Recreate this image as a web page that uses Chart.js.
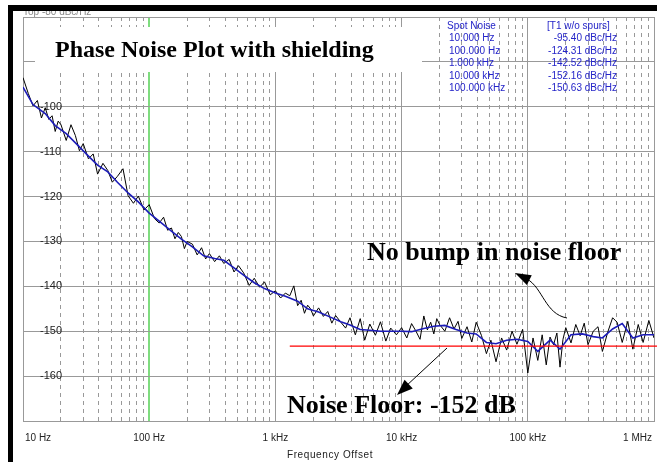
<!DOCTYPE html>
<html><head><meta charset="utf-8">
<script src="https://cdn.jsdelivr.net/npm/chart.js@4.4.0/dist/chart.umd.min.js"></script>
<style>html,body{margin:0;padding:0;background:#fff;overflow:hidden}</style>
</head><body>
<canvas id="c" width="657" height="462"></canvas>
<script>
// ---- data ----
const rawFreq = [
 10,11,12,13,14,15,16,17,18,19,20,22,24,26,28,30,33,36,39,43,47,51,56,62,68,75,82,91,
 100,110,120,130,140,150,160,170,180,190,200,220,240,260,280,300,330,360,390,430,470,510,560,620,680,750,820,910,
 1000,1100,1200,1300,1400,1500,1600,1700,1800,1900,2000,2200,2400,2600,2800,3000,3300,3600,3900,4300,4700,5100,5600,6200,6800,7500,8200,9100,
 10000,11000,12000,13000,14000,15000,16000,17000,18000,19000,20000,22000,24000,26000,28000,30000,33000,36000,39000,43000,47000,51000,56000,62000,68000,75000,82000,91000,
 100000,110000,120000,130000,140000,150000,160000,170000,180000,190000,200000,220000,240000,260000,280000,300000,330000,360000,390000,430000,470000,510000,560000,620000,680000,750000,820000,910000,
 1000000];
const rawNoise = [
 -93.5,-97.0,-99.8,-98.6,-102.5,-100.2,-102.8,-102.0,-105.5,-103.2,-104.0,-107.5,-104.0,-106.4,-109.8,-108.2,-111.6,-110.5,-115.0,-112.6,-114.2,-116.8,-115.5,-113.8,-119.8,-121.5,-119.9,-123.0,
 -121.8,-124.9,-125.9,-124.6,-127.5,-127.0,-129.4,-128.0,-128.9,-131.6,-130.0,-130.6,-133.0,-131.4,-133.9,-132.7,-134.5,-133.2,-134.9,-134.0,-136.8,-135.4,-137.0,-139.8,-138.2,-140.2,-139.0,-141.9,
 -141.0,-142.6,-141.5,-142.1,-139.9,-144.3,-143.1,-146.0,-144.2,-145.0,-146.6,-144.8,-146.7,-145.6,-148.2,-146.5,-148.0,-149.3,-147.0,-150.8,-147.2,-152.0,-148.4,-150.9,-147.9,-152.2,-149.3,-150.8,
 -149.2,-151.5,-148.3,-150.0,-151.8,-146.6,-149.7,-148.0,-150.6,-147.2,-148.5,-150.0,-147.0,-149.5,-147.8,-151.6,-149.0,-152.4,-148.0,-151.0,-155.0,-152.0,-156.8,-151.5,-154.2,-150.0,-152.9,-149.6,
 -159.3,-151.5,-156.5,-150.8,-157.5,-151.3,-153.0,-150.4,-158.0,-151.8,-149.2,-152.6,-148.5,-151.0,-148.2,-153.0,-150.0,-149.0,-154.5,-150.2,-147.0,-148.0,-152.5,-147.8,-154.0,-148.5,-152.5,-147.6,
 -151.5];
const avgFreq = [
 10,12,15,18,22,27,33,39,47,56,68,82,
 100,120,150,180,220,270,330,390,470,560,680,820,
 1000,1200,1500,1800,2200,2700,3300,3900,4700,5600,6800,8200,
 10000,12000,15000,18000,22000,27000,33000,39000,47000,56000,68000,82000,
 100000,120000,150000,180000,220000,270000,330000,390000,470000,560000,680000,820000,
 1000000];
const avgNoise = [
 -95.6,-99.5,-101.5,-104.2,-106.0,-108.5,-111.0,-113.0,-114.5,-116.8,-119.2,-121.2,
 -123.7,-125.5,-127.7,-129.5,-131.2,-133.2,-133.8,-134.2,-135.9,-137.5,-139.2,-140.5,
 -141.5,-142.2,-143.3,-145.0,-145.7,-146.8,-147.9,-148.6,-149.6,-149.8,-150.0,-150.0,
 -150.0,-150.1,-149.4,-148.9,-148.7,-149.6,-150.4,-150.6,-152.5,-152.8,-152.0,-151.8,
 -152.3,-154.5,-152.0,-154.0,-150.8,-150.6,-151.2,-151.5,-149.5,-148.3,-151.5,-150.8,
 -150.8];
const floorFreq = [1300, 1060000];
const floorLevel = [-153.3, -153.3];
const majorFreqs = [10, 100, 1000, 10000, 100000, 1000000];
const xTickLabels = ['10 Hz', '100 Hz', '1 kHz', '10 kHz', '100 kHz', '1 MHz'];
const markerFreq = 100;
const spotFreqLabels = ['10.000 Hz', '100.000 Hz', '1.000 kHz', '10.000 kHz', '100.000 kHz'];
const spotValues = ['-95.40 dBc/Hz', '-124.31 dBc/Hz', '-142.52 dBc/Hz', '-152.16 dBc/Hz', '-150.63 dBc/Hz'];
const yMin = -170, yMax = -80, yStep = 10;

// minor grid positions (2..9 x decade)
const minorFreqs = [];
for (let d = 10; d < 1000000; d *= 10) for (let k = 2; k <= 9; k++) minorFreqs.push(d * k);

const toXY = (fs, vs) => fs.map((f, i) => ({x: f, y: vs[i]}));
const zeroFit = s => { if (s.isHorizontal()) s.height = 0; else s.width = 0; s.paddingTop = 0; s.paddingBottom = 0; s.paddingLeft = 0; s.paddingRight = 0; };

const overlay = {
  id: 'overlay',
  beforeDraw(chart) {
    const c = chart.ctx; c.save(); c.fillStyle = '#fff'; c.fillRect(0, 0, chart.width, chart.height); c.restore();
  },
  afterDraw(chart) {
    const c = chart.ctx, ca = chart.chartArea, xs = chart.scales.x;
    c.save();
    // title box
    c.fillStyle = '#fff';
    c.fillRect(ca.left + 12, ca.top + 10, 387, 45);
    c.fillStyle = '#000';
    c.font = 'bold 24px "Liberation Serif", "Times New Roman", serif';
    c.textBaseline = 'alphabetic'; c.textAlign = 'left';
    c.fillText('Phase Noise Plot with shielding', ca.left + 32, ca.top + 40);

    // spot noise table
    c.fillStyle = '#2424c8';
    c.font = '10px "Liberation Sans", Arial, sans-serif';
    const rowY = ca.top + 11.5, rowH = 12.5;
    c.textAlign = 'left';
    c.fillText('Spot Noise', 447, rowY);
    c.fillText('[T1 w/o spurs]', 547, rowY);
    for (let i = 0; i < spotFreqLabels.length; i++) {
      c.textAlign = 'left';
      c.fillText(spotFreqLabels[i], 449, rowY + rowH * (i + 1));
      c.textAlign = 'right';
      c.fillText(spotValues[i], 617, rowY + rowH * (i + 1));
    }

    // annotations
    c.fillStyle = '#000';
    c.textAlign = 'left';
    c.font = 'bold 26px "Liberation Serif", "Times New Roman", serif';
    c.fillText('No bump in noise floor', 367, 260);
    c.fillText('Noise Floor: -152 dB', 287, 413);

    // straight arrow
    c.strokeStyle = '#000'; c.lineWidth = 1;
    const drawHead = (tx, ty, ang, len, wid) => {
      c.beginPath();
      c.moveTo(tx, ty);
      c.lineTo(tx - len * Math.cos(ang) + wid / 2 * Math.sin(ang), ty - len * Math.sin(ang) - wid / 2 * Math.cos(ang));
      c.lineTo(tx - len * Math.cos(ang) - wid / 2 * Math.sin(ang), ty - len * Math.sin(ang) + wid / 2 * Math.cos(ang));
      c.closePath(); c.fill();
    };
    c.beginPath(); c.moveTo(447, 348); c.lineTo(405, 387); c.stroke();
    drawHead(397, 395, Math.atan2(395 - 348, 397 - 447), 16, 12);
    // curved arrow
    c.beginPath(); c.moveTo(567, 318);
    c.bezierCurveTo(545, 314, 543, 288, 527, 279); c.stroke();
    drawHead(515, 273, Math.atan2(273 - 281, 515 - 531), 16, 11);

    // x tick labels
    c.fillStyle = '#222';
    c.font = '10px "Liberation Sans", Arial, sans-serif';
    majorFreqs.forEach((f, i) => {
      const px = xs.getPixelForValue(f);
      let x = px;
      if (i === 0) { c.textAlign = 'left'; x = px + 2; }
      else if (i === majorFreqs.length - 1) { c.textAlign = 'right'; x = px - 2; }
      else c.textAlign = 'center';
      c.fillText(xTickLabels[i], x, 441);
    });
    c.textAlign = 'center';
    c.font = '10px "Liberation Sans", Arial, sans-serif';
    c.letterSpacing = '0.6px';
    c.fillText('Frequency Offset', 330, 458);
    c.letterSpacing = '0px';

    // top text partially hidden
    c.fillStyle = '#888';
    c.textAlign = 'left';
    c.fillText('Top -80 dBc/Hz', ca.left, 15);
    // black frame
    c.fillStyle = '#000';
    c.fillRect(8, 5, chart.width - 8, 6);
    c.fillRect(8, 5, 5, chart.height - 5);
    c.restore();
  }
};

new Chart(document.getElementById('c'), {
  type: 'line',
  data: {
    datasets: [
      { label: 'raw', data: toXY(rawFreq, rawNoise), borderColor: '#000', borderWidth: 1, pointRadius: 0, tension: 0, order: 3 },
      { label: 'avg', data: toXY(avgFreq, avgNoise), borderColor: '#1c1cb8', borderWidth: 1.6, pointRadius: 0, tension: 0, order: 2 },
      { label: 'floor', data: toXY(floorFreq, floorLevel), borderColor: '#ff0000', borderWidth: 1.2, pointRadius: 0, order: 1, clip: false }
    ]
  },
  options: {
    responsive: false, animation: false, devicePixelRatio: 1,
    layout: { padding: { left: 23, right: 3, top: 17, bottom: 41 } },
    plugins: { legend: { display: false }, tooltip: { enabled: false } },
    scales: {
      x: {
        type: 'logarithmic', min: 10, max: 1000000, position: 'bottom',
        afterBuildTicks: s => { s.ticks = majorFreqs.map(v => ({ value: v })); },
        afterFit: zeroFit,
        ticks: { display: false },
        grid: {
          drawTicks: false,
          color: ctx => (ctx.tick && ctx.tick.value === markerFreq) ? '#7fdc7f' : '#999',
          lineWidth: ctx => (ctx.tick && ctx.tick.value === markerFreq) ? 2 : 1
        },
        border: { display: true, color: '#999' }
      },
      x2: {
        type: 'logarithmic', min: 10, max: 1000000, position: 'bottom',
        afterBuildTicks: s => { s.ticks = minorFreqs.map(v => ({ value: v })); },
        afterFit: zeroFit,
        ticks: { display: false },
        grid: { drawTicks: false, color: '#999', lineWidth: 1 },
        border: { display: false, dash: [4, 4] }
      },
      y: {
        type: 'linear', min: yMin, max: yMax,
        afterFit: zeroFit,
        ticks: {
          stepSize: yStep, mirror: true, padding: 17, color: '#222',
          font: { family: '"Liberation Sans", Arial, sans-serif', size: 11 },
          callback: v => (v === yMin || v === yMax) ? '' : String(v)
        },
        grid: { drawTicks: false, color: '#999', lineWidth: 1 },
        border: { display: true, color: '#999' }
      }
    }
  },
  plugins: [overlay]
});
</script>
</body></html>
